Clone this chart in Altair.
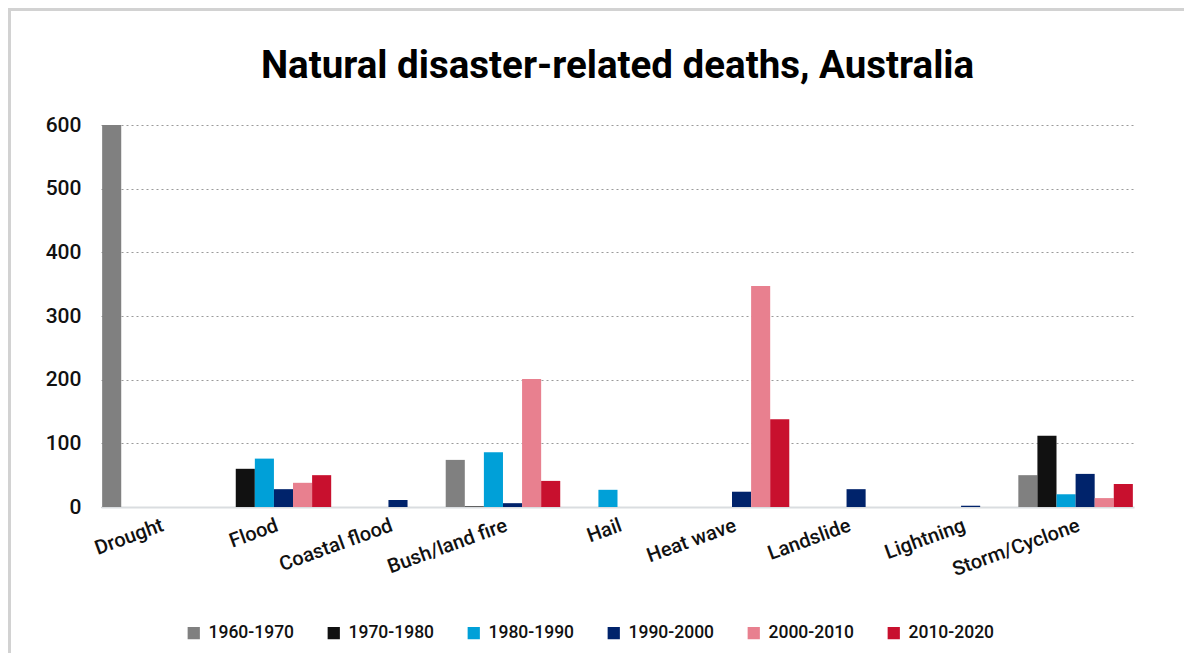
import altair as alt
import pandas as pd

categories = ["Drought", "Flood", "Coastal flood", "Bush/land fire", "Hail",
              "Heat wave", "Landslide", "Lightning", "Storm/Cyclone"]
periods = ["1960-1970", "1970-1980", "1980-1990", "1990-2000", "2000-2010", "2010-2020"]

d1960 = [600, 0, 0, 74, 0, 0, 0, 0, 50]
d1970 = [0, 60, 0, 1, 0, 0, 0, 0, 112]
d1980 = [0, 76, 0, 86, 27, 0, 0, 0, 20]
d1990 = [0, 28, 11, 6, 0, 24, 28, 2, 52]
d2000 = [0, 38, 0, 201, 0, 347, 0, 0, 14]
d2010 = [0, 50, 0, 41, 0, 138, 0, 0, 36]

colors = ["#808080", "#111111", "#00a0d8", "#00236b", "#e8808f", "#c8102e"]
y_ticks = [0, 100, 200, 300, 400, 500, 600]

rows = []
for p, vals in zip(periods, [d1960, d1970, d1980, d1990, d2000, d2010]):
    for c, v in zip(categories, vals):
        rows.append({"category": c, "period": p, "deaths": v})
df = pd.DataFrame(rows)

W, H = 1033, 382
PAD = {"left": 93, "top": 117, "right": 50, "bottom": 146}

bars = alt.Chart(df).mark_bar().encode(
    x=alt.X("category:N", sort=categories,
            scale=alt.Scale(paddingInner=0, paddingOuter=0.01),
            axis=alt.Axis(title=None, labelAngle=-20, labelAlign="right", labelBaseline="top",
                          labelPadding=8, labelFontSize=20, labelFont="Roboto",
                          labelFontWeight=500, labelColor="#111111", ticks=False,
                          domainColor="#dadde0", domainWidth=2, labelLimit=300)),
    xOffset=alt.XOffset("period:N", sort=periods,
                        scale=alt.Scale(domain=periods, paddingInner=0, paddingOuter=0)),
    y=alt.Y("deaths:Q", scale=alt.Scale(domain=[0, 600]),
            axis=alt.Axis(title=None, values=y_ticks, grid=True, gridDash=[2, 3],
                          gridColor="#9a9a9a", gridWidth=1, domain=False, ticks=False,
                          labelPadding=20, labelFontSize=21, labelFont="Roboto",
                          labelFontWeight=500, labelColor="#111111")),
    color=alt.Color("period:N", sort=periods,
                    scale=alt.Scale(domain=periods, range=colors),
                    legend=alt.Legend(title=None, orient="none", legendX=84, legendY=499,
                                      direction="horizontal", columns=6, symbolType="square",
                                      symbolSize=150, symbolStrokeWidth=0,
                                      labelFontSize=17.5, labelFont="Roboto",
                                      labelFontWeight=500,
                                      labelColor="#111111", labelOffset=6, columnPadding=30)),
)

frame_df = pd.DataFrame({"f": [0]})
left_edge = alt.Chart(frame_df).mark_rule(stroke="#d2d2d2", strokeWidth=3).encode(
    x=alt.value(-PAD["left"] + 1.5),
    y=alt.value(-PAD["top"]), y2=alt.value(H + PAD["bottom"]),
)
top_edge = alt.Chart(frame_df).mark_rule(stroke="#d2d2d2", strokeWidth=3).encode(
    x=alt.value(-PAD["left"]), x2=alt.value(W + PAD["right"]),
    y=alt.value(-PAD["top"] + 1.5),
)

chart = alt.layer(left_edge, top_edge, bars).properties(
    width=W, height=H,
    padding=PAD,
    autosize=alt.AutoSizeParams(type="none"),
    title=alt.TitleParams("Natural disaster-related deaths, Australia",
                          font="Roboto",
                          fontSize=38.5, fontWeight="bold", color="#000000",
                          anchor="middle", offset=0, dy=80),
).configure_view(stroke=None)

chart.save("out.html", embed_options={"renderer": "svg", "actions": False})
